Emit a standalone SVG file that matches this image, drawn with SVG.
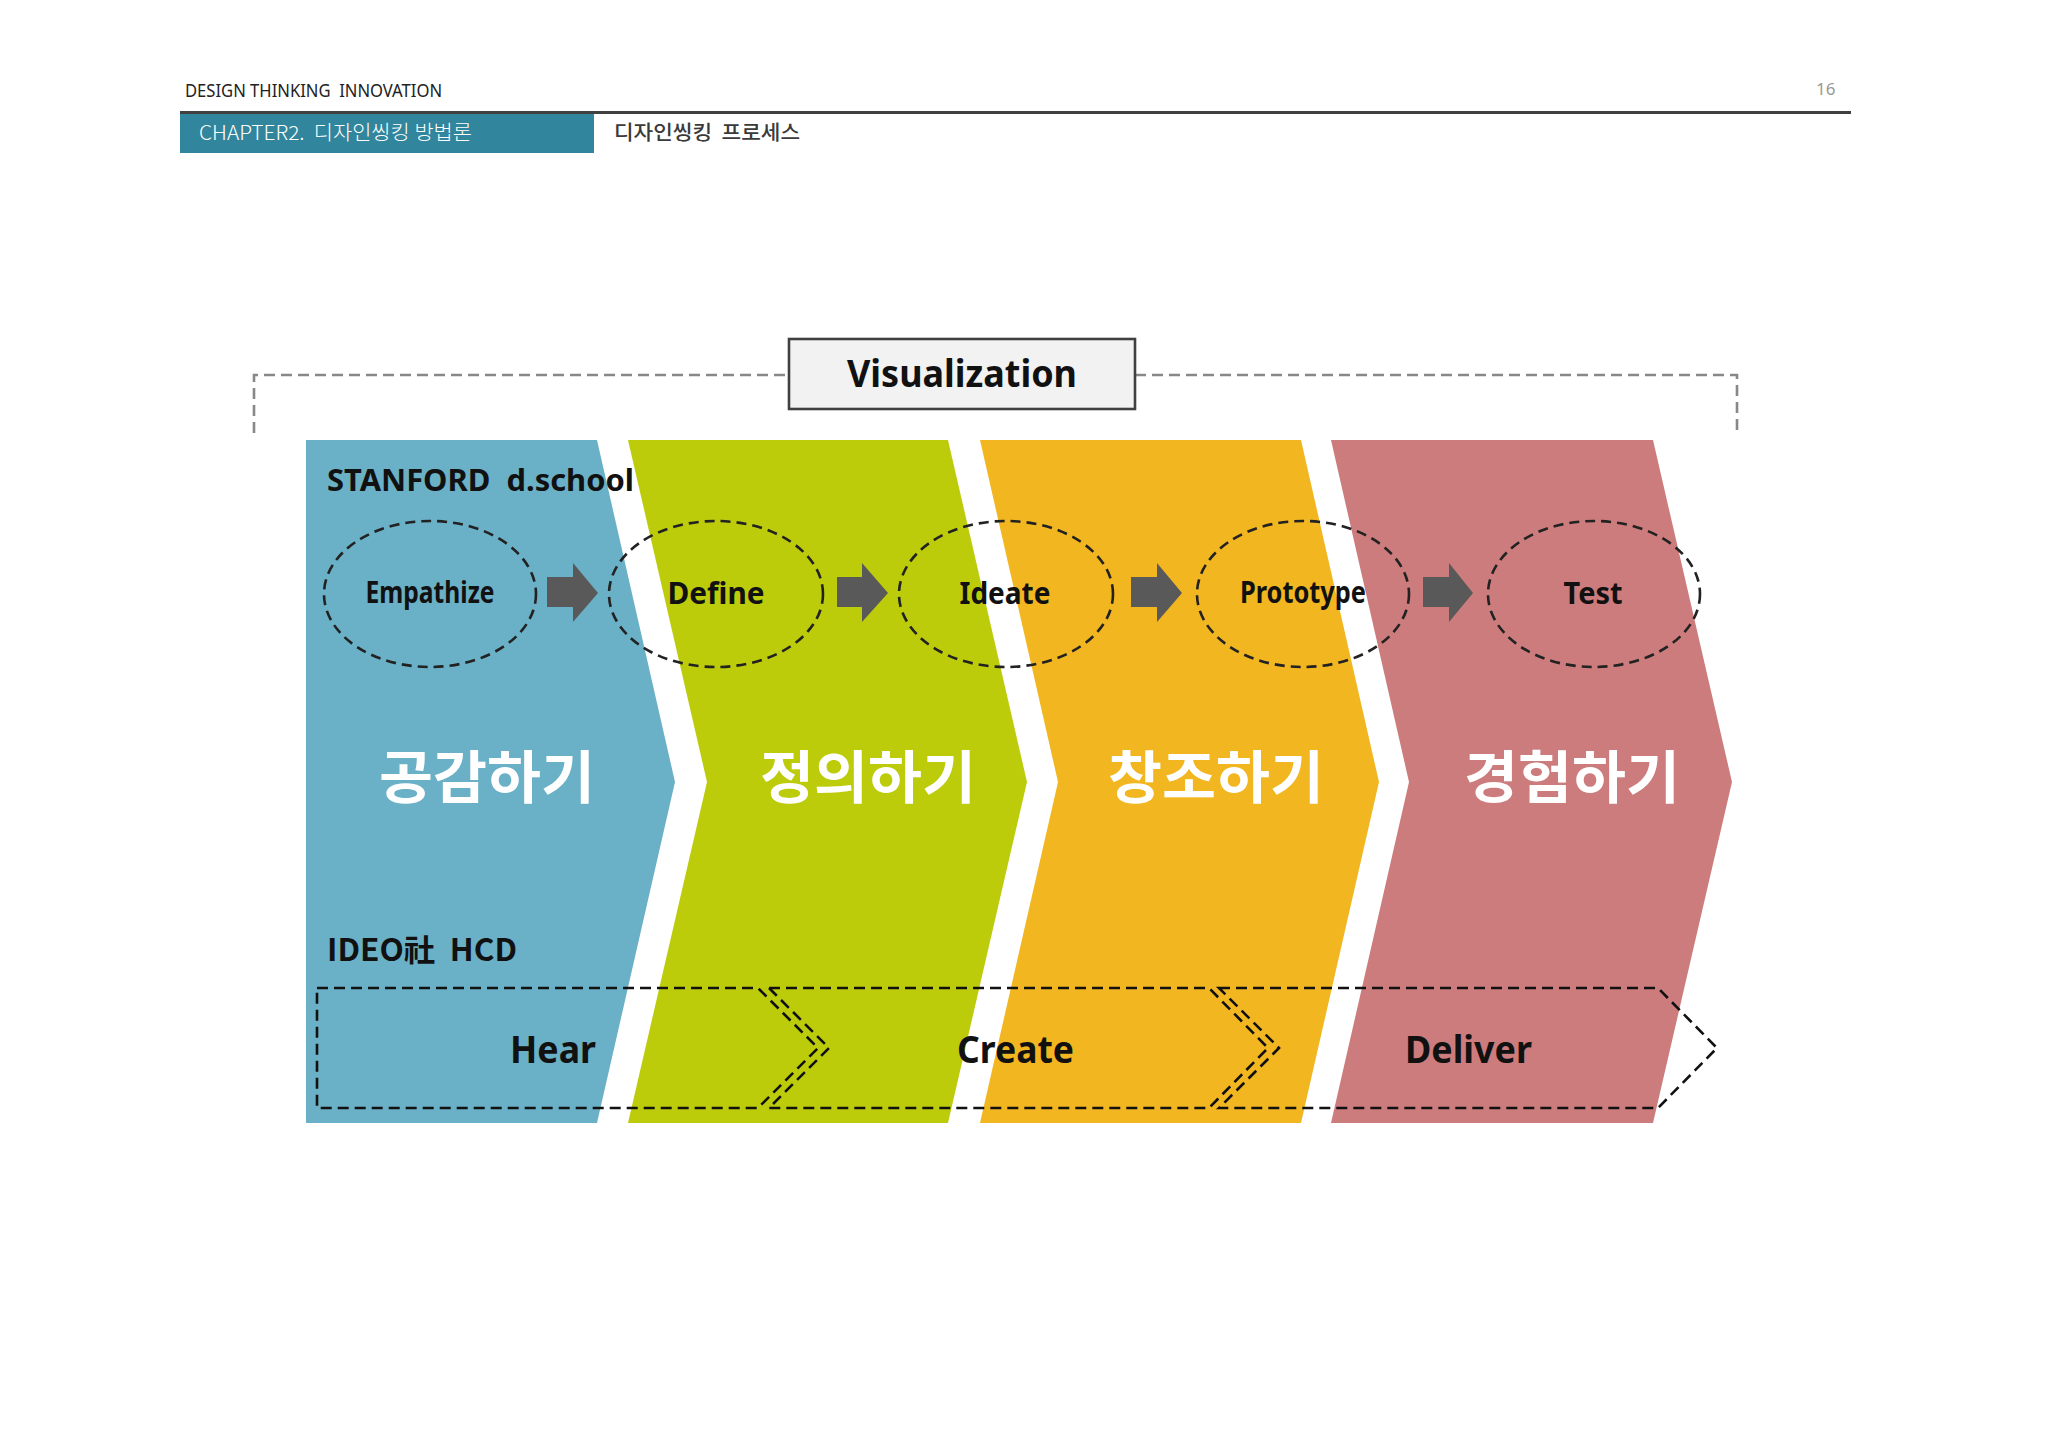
<svg xmlns="http://www.w3.org/2000/svg" width="2048" height="1447" viewBox="0 0 2048 1447">
<style>
.lat{font-family:"Noto Sans","Liberation Sans","Noto Sans CJK KR",sans-serif;white-space:pre}
.kr{font-family:"Noto Sans CJK KR","Noto Sans",sans-serif;white-space:pre}
.b{font-weight:700}
.ell{fill:none;stroke:#222;stroke-width:2.6;stroke-dasharray:10 6}
.grp{fill:none;stroke:#111;stroke-width:2.6;stroke-dasharray:11 6}
.arr{fill:#595959}
.big{font-size:57px;fill:#fff;font-weight:700;text-anchor:middle}
.st{font-size:30px;fill:#111;font-weight:700;text-anchor:middle}
.hd{font-size:37px;fill:#111;font-weight:700}
</style>
<rect width="2048" height="1447" fill="#fff"/>
<g id="header">
<text class="lat" x="185" y="97" font-size="18" fill="#222" textLength="257" lengthAdjust="spacingAndGlyphs">DESIGN THINKING  INNOVATION</text>
<text class="lat" x="1816" y="95" font-size="17" fill="#999">16</text>
<line x1="180" y1="112.5" x2="1851" y2="112.5" stroke="#404040" stroke-width="3"/>
<rect x="180" y="114" width="414" height="39" fill="#31859C"/>
<text class="kr" x="199" y="140" font-size="20" fill="#fff" font-weight="300" textLength="273" lengthAdjust="spacingAndGlyphs">CHAPTER2.  디자인씽킹 방법론</text>
<text class="kr" x="614" y="140" font-size="20" fill="#3a3a3a" font-weight="500" textLength="186" lengthAdjust="spacingAndGlyphs">디자인씽킹  프로세스</text>
</g>
<g id="visualization">
<path d="M254,433 V375 H789 M1135,375 H1737 V433" fill="none" stroke="#888" stroke-width="2.6" stroke-dasharray="11 6"/>
<rect x="789" y="339" width="346" height="70" fill="#f2f2f2" stroke="#404040" stroke-width="2.6"/>
<text class="lat b" x="962" y="387" font-size="38" fill="#111" text-anchor="middle" textLength="230" lengthAdjust="spacingAndGlyphs">Visualization</text>
</g>
<g id="stage-empathize">
<path d="M306,440 H597 L675,782 L597,1123 H306 Z" fill="#6AB0C7"/>
<text class="kr big" x="487" y="798" textLength="216" lengthAdjust="spacingAndGlyphs">공감하기</text>
</g>
<g id="stage-define">
<path d="M628,440 H948 L1027,782 L948,1123 H628 L707,782 Z" fill="#BDCC0A"/>
<text class="kr big" x="868" y="798" textLength="216" lengthAdjust="spacingAndGlyphs">정의하기</text>
</g>
<g id="stage-ideate">
<path d="M980,440 H1301 L1379,782 L1301,1123 H980 L1058,782 Z" fill="#F2B620"/>
<text class="kr big" x="1216" y="798" textLength="216" lengthAdjust="spacingAndGlyphs">창조하기</text>
</g>
<g id="stage-test">
<path d="M1331,440 H1653 L1732,782 L1653,1123 H1331 L1409,782 Z" fill="#CC7C7C"/>
<text class="kr big" x="1572" y="798" textLength="216" lengthAdjust="spacingAndGlyphs">경험하기</text>
</g>
<g id="stanford-label">
<text class="lat b" x="327" y="491" font-size="31" fill="#111" textLength="307" lengthAdjust="spacingAndGlyphs">STANFORD  d.school</text>
</g>
<g id="node-empathize">
<ellipse class="ell" cx="430" cy="594" rx="106" ry="73"/>
<text class="lat st" x="430" y="603" font-size="25" textLength="129" lengthAdjust="spacingAndGlyphs">Empathize</text>
</g>
<g id="node-define">
<ellipse class="ell" cx="716" cy="594" rx="107" ry="73"/>
<text class="lat st" x="716" y="604" textLength="97" lengthAdjust="spacingAndGlyphs">Define</text>
</g>
<g id="node-ideate">
<ellipse class="ell" cx="1006" cy="594" rx="107" ry="73"/>
<text class="lat st" x="1005" y="604" textLength="91" lengthAdjust="spacingAndGlyphs">Ideate</text>
</g>
<g id="node-prototype">
<ellipse class="ell" cx="1303" cy="594" rx="106" ry="73"/>
<text class="lat st" x="1303" y="603" font-size="25" textLength="126" lengthAdjust="spacingAndGlyphs">Prototype</text>
</g>
<g id="node-test">
<ellipse class="ell" cx="1594" cy="594" rx="106" ry="73"/>
<text class="lat st" x="1593" y="604" textLength="59" lengthAdjust="spacingAndGlyphs">Test</text>
</g>
<g id="connectors">
<path class="arr" d="M547,577 H573 V563 L598,593 L573,622 V607 H547 Z"/>
<path class="arr" d="M837,577 H862 V563 L888,593 L862,622 V607 H837 Z"/>
<path class="arr" d="M1131,577 H1157 V563 L1182,593 L1157,622 V607 H1131 Z"/>
<path class="arr" d="M1423,577 H1449 V563 L1473,593 L1449,622 V607 H1423 Z"/>
</g>
<g id="ideo-label">
<text class="kr b" x="327" y="961" font-size="31" fill="#111" textLength="190" lengthAdjust="spacingAndGlyphs">IDEO社  HCD</text>
</g>
<g id="phase-hear">
<path class="grp" d="M317,988 H758 L818,1048 L758,1108 H317 Z"/>
<text class="lat hd" x="510" y="1063" textLength="86" lengthAdjust="spacingAndGlyphs">Hear</text>
</g>
<g id="phase-create">
<path class="grp" d="M769,988 H1209 L1268,1048 L1209,1108 H769 L829,1048 Z"/>
<text class="lat hd" x="957" y="1063" textLength="117" lengthAdjust="spacingAndGlyphs">Create</text>
</g>
<g id="phase-deliver">
<path class="grp" d="M1219,988 H1658 L1717,1048 L1658,1108 H1219 L1279,1048 Z"/>
<text class="lat hd" x="1405" y="1063" textLength="127" lengthAdjust="spacingAndGlyphs">Deliver</text>
</g>
</svg>
